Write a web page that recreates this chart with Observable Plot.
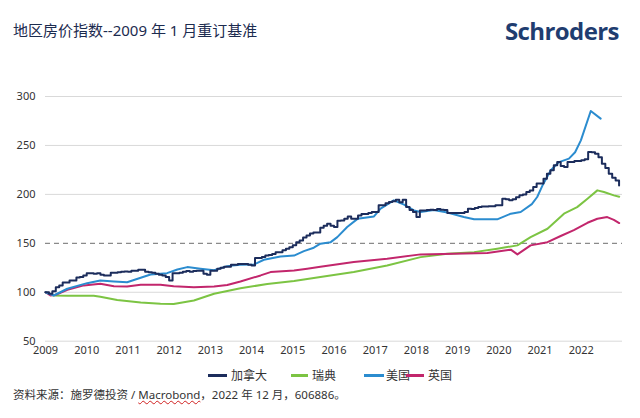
<!DOCTYPE html>
<html>
<head>
<meta charset="utf-8">
<script src="https://cdn.jsdelivr.net/npm/d3@7"></script>
<script src="https://cdn.jsdelivr.net/npm/@observablehq/plot@0.6"></script>
<style>
  html, body { margin: 0; padding: 0; background: #fff; }
  body { width: 640px; height: 418px; position: relative; overflow: hidden;
         font-family: "Noto Sans", "Noto Sans CJK SC", sans-serif; }
  #chart { position: absolute; left: 0; top: 0; }
  .title { position: absolute; left: 13px; top: 20px; line-height: 20px; font-size: 15px;
           color: #1c2b4f; font-family: "Noto Sans", "Noto Sans CJK SC", sans-serif; white-space: nowrap; }
  .logo { position: absolute; left: 505px; top: 16px; line-height: 30px; font-size: 24px; font-weight: 700;
          color: #1f3d70; font-family: "Open Sans", "Noto Sans", sans-serif; letter-spacing: -0.6px; }
  .leg { position: absolute; top: 366px; height: 18px; line-height: 18px; font-size: 12px; color: #333;
         font-family: "Noto Sans CJK SC", sans-serif; white-space: nowrap; }
  .sw { position: absolute; top: 374px; height: 3px; }
  .caption { position: absolute; left: 13px; top: 386px; line-height: 18px; font-size: 11.5px; color: #333;
             font-family: "Noto Sans", "Noto Sans CJK SC", sans-serif; white-space: nowrap; }
  .wavy { text-decoration: underline wavy #d02020; text-decoration-thickness: 1px; }
</style>
</head>
<body>
<div class="title">地区房价指数--2009 年 1 月重订基准</div>
<div class="logo">Schroders</div>
<div id="chart"></div>
<div id="legend"></div>
<div class="caption">资料来源：施罗德投资 / <span class="wavy">Macrobond</span>，2022 年 12 月，606886。</div>
<script>
// ---- Data ----
const seriesNames = ["加拿大", "瑞典", "美国", "英国"];
const seriesColors = ["#1c2d5c", "#7cc443", "#2b8ccf", "#c2266c"];

const xTicks = [2009, 2010, 2011, 2012, 2013, 2014, 2015, 2016, 2017, 2018, 2019, 2020, 2021, 2022];
const yTicks = [50, 100, 150, 200, 250, 300];

// Canada: monthly, Jan 2009 - Dec 2022
const canadaStart = 2009;
const canada = [
  100, 98.5, 101, 105, 107, 110, 110, 112, 112, 115, 115.5, 117,
  119.5, 119.5, 119, 119.5, 118, 117, 117, 120, 120, 120.5, 121, 121.3,
  121, 122, 122, 123, 123, 121, 120.5, 120, 119, 118, 117, 115.5,
  112, 119.5, 119.5, 120, 121, 121.6, 121, 121.6, 122, 122, 119, 118,
  122, 122, 124, 125, 126, 126, 128, 128, 129, 129, 129, 128,
  127.4, 135, 135, 136, 137.6, 138, 139, 141, 141, 143, 144.5, 146,
  148, 151, 153, 156, 158, 160, 161, 161, 166, 168, 170, 168,
  166.6, 173, 173.4, 175, 177.5, 175, 175, 178.4, 180, 180, 181, 182,
  182, 188.8, 189, 191, 192.2, 193, 194.6, 192, 194.6, 187, 184, 182,
  176.8, 183.6, 183.6, 184, 184.3, 184, 185, 184.3, 184, 181, 181, 181,
  180.9, 181, 182, 185.4, 185, 186, 187, 187.7, 187.7, 188, 188, 188.8,
  188.8, 195.6, 195, 193.9, 195, 197, 199, 200, 202.4, 204, 207.5, 211,
  211, 216, 221.2, 224.6, 229.7, 233, 229, 228, 233, 233, 234, 234,
  234.8, 236, 243.3, 243, 241.6, 238, 231.4, 227, 221.2, 217, 214.3, 209
];

// Sweden: [decimal year, index]
const sweden = [
  [2009.0, 100], [2009.2, 96.7], [2009.53, 96.5], [2010.17, 96.5], [2010.33, 95.5], [2010.74, 92],
  [2011.31, 89.5], [2011.79, 88.3], [2012.11, 88], [2012.6, 91.6], [2013.09, 98.5], [2013.73, 104],
  [2014.38, 108.5], [2015.03, 111.5], [2015.67, 115.5], [2016.48, 120.6], [2017.29, 127.4],
  [2018.1, 135.9], [2018.75, 139.4], [2019.4, 141], [2019.96, 144.5], [2020.45, 147.9],
  [2020.77, 156.3], [2021.18, 164.9], [2021.58, 180.3], [2021.9, 187], [2022.15, 195.6],
  [2022.39, 204.1], [2022.55, 202.4], [2022.79, 199], [2022.92, 197.5]
];

// United States
const us = [
  [2009.0, 100], [2009.2, 96.7], [2009.53, 103.6], [2010.01, 109.3], [2010.33, 112], [2010.66, 111],
  [2010.98, 110.3], [2011.31, 114.8], [2011.55, 118.2], [2011.95, 119.5], [2012.2, 123.3],
  [2012.44, 125.7], [2012.76, 124], [2013.09, 122.5], [2013.41, 126.7], [2013.73, 128.1],
  [2014.06, 128.4], [2014.3, 133.2], [2014.7, 136.5], [2015.03, 137.5], [2015.27, 142],
  [2015.51, 145.5], [2015.67, 149.6], [2015.92, 151.2], [2016.08, 156.3], [2016.32, 166.6],
  [2016.57, 175], [2016.97, 177.5], [2017.13, 185.4], [2017.45, 193.9], [2017.7, 189.5],
  [2017.94, 183.6], [2018.1, 182], [2018.42, 184], [2018.75, 181.5], [2019.15, 176.8],
  [2019.4, 174.5], [2019.96, 174.5], [2020.29, 180.3], [2020.53, 182], [2020.8, 190],
  [2020.93, 197.3], [2021.06, 209.2], [2021.26, 224.6], [2021.46, 233], [2021.7, 236.5],
  [2021.85, 243], [2021.99, 255.2], [2022.23, 285.2], [2022.47, 277.4]
];

// United Kingdom
const uk = [
  [2009.0, 100], [2009.12, 96.7], [2009.25, 97.5], [2009.53, 102.5], [2009.93, 107], [2010.33, 108.7],
  [2010.66, 106.2], [2010.98, 105.9], [2011.31, 107.7], [2011.79, 107.7], [2012.11, 106.2],
  [2012.6, 105.2], [2013.09, 105.9], [2013.41, 107.5], [2013.73, 111], [2014.22, 117.2],
  [2014.46, 120.6], [2015.03, 122.3], [2015.35, 124], [2015.67, 126], [2016.48, 130.8],
  [2017.29, 134.2], [2018.1, 138.7], [2018.91, 139.4], [2019.72, 140], [2020.29, 143.5],
  [2020.45, 138.7], [2020.77, 147.9], [2021.18, 151.2], [2021.5, 157.5], [2021.82, 163.5],
  [2022.15, 171], [2022.39, 175.1], [2022.63, 176.8], [2022.79, 174], [2022.92, 170.7]
];

const refLine = 150;

// ---- Build tables ----
const canadaRows = canada.map((v, i) => ({t: canadaStart + i / 12, v}));
const toRows = arr => arr.map(([t, v]) => ({t, v}));

const chart = Plot.plot({
  width: 640,
  height: 365,
  marginTop: 96,
  marginBottom: 24.3,
  marginLeft: 45,
  marginRight: 18,
  style: {fontSize: "11px", color: "#333", fontFamily: "'Noto Sans', sans-serif", background: "transparent"},
  x: {domain: [2009, 2023], ticks: xTicks, tickFormat: d => String(d), tickSize: 0, tickPadding: 5, label: null},
  y: {domain: [50, 300], ticks: yTicks, tickSize: 0, tickPadding: 10, label: null},
  marks: [
    Plot.ruleY(yTicks.filter(d => d !== refLine), {stroke: "#d9d9d9", strokeWidth: 1}),
    Plot.ruleY([refLine], {stroke: "#8a8a8a", strokeWidth: 1.2, strokeDasharray: "5,4"}),
    Plot.line(toRows(sweden), {x: "t", y: "v", stroke: seriesColors[1], strokeWidth: 2}),
    Plot.line(toRows(uk), {x: "t", y: "v", stroke: seriesColors[3], strokeWidth: 2}),
    Plot.line(toRows(us), {x: "t", y: "v", stroke: seriesColors[2], strokeWidth: 2}),
    Plot.line(canadaRows, {x: "t", y: "v", stroke: seriesColors[0], strokeWidth: 2, curve: "step-after"})
  ]
});
document.getElementById("chart").appendChild(chart);

// ---- Legend ----
const legendPos = [
  {sw: 208, w: 19, tx: 231},
  {sw: 291, w: 17, tx: 312},
  {sw: 364, w: 20, tx: 386},
  {sw: 406, w: 18, tx: 428}
];
const legend = document.getElementById("legend");
seriesNames.forEach((name, i) => {
  const p = legendPos[i];
  const s = document.createElement("div");
  s.className = "sw";
  s.style.left = p.sw + "px";
  s.style.width = p.w + "px";
  s.style.background = seriesColors[i];
  legend.appendChild(s);
  const t = document.createElement("div");
  t.className = "leg";
  t.style.left = p.tx + "px";
  t.textContent = name;
  legend.appendChild(t);
});
</script>
</body>
</html>
